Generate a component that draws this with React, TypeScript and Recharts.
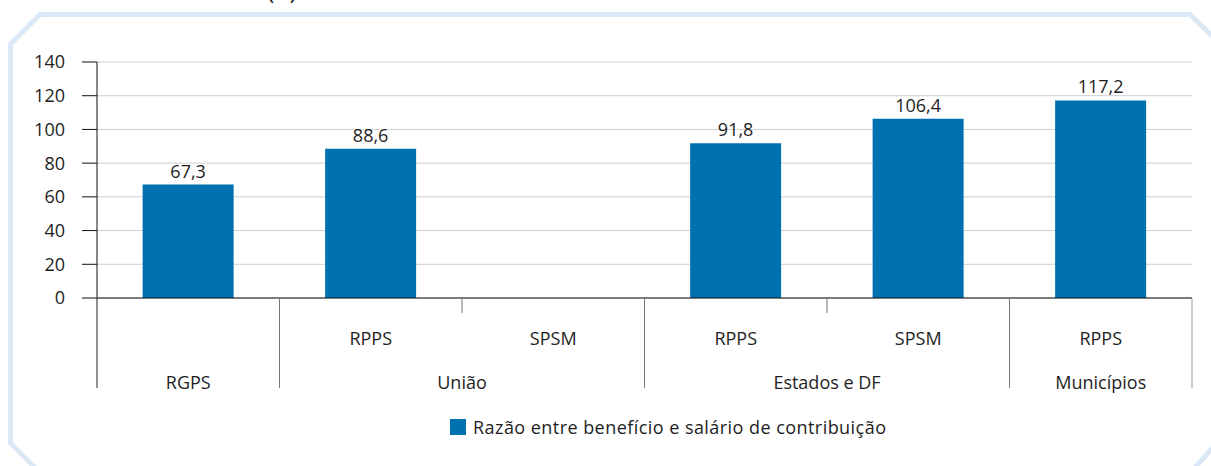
import React from 'react';
import {
    BarChart, Bar, XAxis, YAxis, CartesianGrid, LabelList
} from 'recharts';

const GROUPS = ['RGPS', 'União', 'União', 'Estados e DF', 'Estados e DF', 'Municípios'];
const SUBS = ['', 'RPPS', 'SPSM', 'RPPS', 'SPSM', 'RPPS'];
const VALUES: (number | null)[] = [67.3, 88.6, null, 91.8, 106.4, 117.2];
const Y_TICKS = [0, 20, 40, 60, 80, 100, 120, 140];
const SERIES_NAME = 'Razão entre benefício e salário de contribuição';

const data = VALUES.map((v, i) => ({ key: i, group: GROUPS[i], sub: SUBS[i], value: v }));

const FONT = '"Open Sans", "Noto Sans", sans-serif';
const BLUE = '#0071b0';
const TEXT = '#1e1e1e';

function MultiTick(props: any) {
    const { x, y, payload } = props;
    const i = payload.index;
    const half = payload.offset;
    const left = x - half;
    const isFirst = i === 0 || GROUPS[i - 1] !== GROUPS[i];
    const isLast = i === GROUPS.length - 1;
    const span = GROUPS.filter((g) => g === GROUPS[i]).length;
    const groupCenter = left + span * half;
    return (
        <g>
            {isFirst ? (
                <line x1={left} x2={left} y1={y} y2={y + 90} stroke={i === 0 ? '#222' : '#777'} />
            ) : (
                <line x1={left} x2={left} y1={y} y2={y + 15} stroke="#777" />
            )}
            {isLast && <line x1={x + half} x2={x + half} y1={y} y2={y + 90} stroke="#999" />}
            {SUBS[i] && (
                <text x={x} y={y + 47} textAnchor="middle" fontSize={18} fill={TEXT} fontFamily={FONT}>
                    {SUBS[i]}
                </text>
            )}
            {isFirst && (
                <text x={groupCenter} y={y + 91} textAnchor="middle" fontSize={18} fill={TEXT} fontFamily={FONT}>
                    {GROUPS[i]}
                </text>
            )}
        </g>
    );
}

function Frame() {
    return (
        <svg width={1211} height={466} style={{ position: 'absolute', left: 0, top: 0 }}>
            <polygon
                points="40,14.5 1190,14.5 1214,38 1214,446 1194,469 36,469 10.5,443 10.5,44"
                fill="none"
                stroke="#dbe8f6"
                strokeWidth={5}
            />
            {/* panel title, cut off by the top edge as in the source */}
            <text x={282} y={-1} textAnchor="middle" fontSize={24} fill={TEXT} fontFamily={FONT}>(A)</text>
        </svg>
    );
}

function ChartLegend() {
    return (
        <div
            style={{
                position: 'absolute', left: 450, top: 415, display: 'flex', alignItems: 'center',
                fontSize: 18, letterSpacing: 0.45, color: TEXT, fontFamily: FONT, whiteSpace: 'nowrap',
            }}
        >
            <span style={{ display: 'inline-block', width: 16, height: 16, background: BLUE, marginRight: 7 }} />
            <span>{SERIES_NAME}</span>
        </div>
    );
}

export default function App() {
    return (
        <div style={{ position: 'absolute', left: 0, top: 0, width: 1211, height: 466, background: '#fff', fontFamily: FONT }}>
            <Frame />
            <div style={{ position: 'absolute', left: 0, top: 0 }}>
                <BarChart
                    width={1211}
                    height={466}
                    data={data}
                    margin={{ top: 62, right: 19, bottom: 0, left: 0 }}
                    barCategoryGap="25%"
                >
                    <CartesianGrid vertical={false} stroke="#cfcfcf" />
                    <XAxis
                        dataKey="key"
                        tick={<MultiTick />}
                        tickLine={false}
                        tickSize={0}
                        tickMargin={0}
                        interval={0}
                        axisLine={{ stroke: '#111' }}
                        height={168}
                    />
                    <YAxis
                        domain={[0, 140]}
                        ticks={Y_TICKS}
                        width={97}
                        tickSize={15}
                        tickMargin={17}
                        axisLine={{ stroke: '#111' }}
                        tickLine={{ stroke: '#111' }}
                        tick={{ fontSize: 18, fill: TEXT, fontFamily: FONT }}
                        interval={0}
                    />
                    <YAxis
                        yAxisId="right"
                        orientation="right"
                        width={0}
                        tick={false}
                        tickLine={false}
                        axisLine={{ stroke: '#d4d4d4' }}
                    />
                    <Bar dataKey="value" name={SERIES_NAME} fill={BLUE} isAnimationActive={false}>
                        <LabelList
                            dataKey="value"
                            position="top"
                            offset={7}
                            formatter={(v: any) => (v == null ? '' : String(v).replace('.', ','))}
                            style={{ fontSize: 18, fill: TEXT, fontFamily: FONT }}
                        />
                    </Bar>
                </BarChart>
            </div>
            <ChartLegend />
        </div>
    );
}
